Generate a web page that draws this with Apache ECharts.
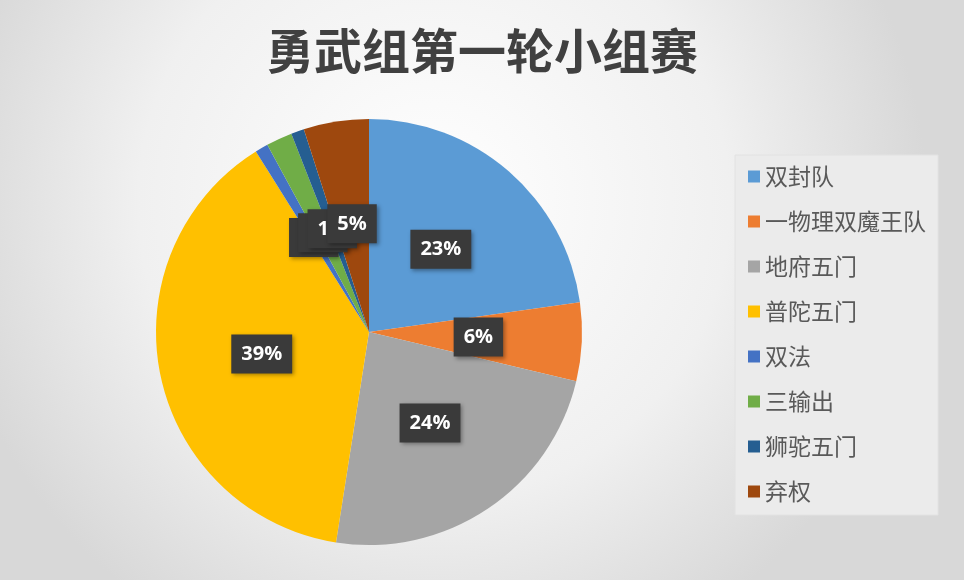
<!DOCTYPE html>
<html><head><meta charset="utf-8">
<script src="https://cdn.jsdelivr.net/npm/echarts@6/dist/echarts.min.js"></script>
<style>html,body{margin:0;padding:0;background:#fff}#c{width:964px;height:580px}</style>
</head><body><div id="c"></div>
<script>
const categories = ['双封队','一物理双魔王队','地府五门','普陀五门','双法','三输出','狮驼五门','弃权'];
const values = [23, 6, 24, 39, 1, 2, 1, 5];
const colors = ['#5B9BD5','#ED7D31','#A5A5A5','#FFC000','#4472C4','#70AD47','#255E91','#9E480E'];
const titleText = '勇武组第一轮小组赛';

const total = values.reduce((a,b)=>a+b,0);
const chart = echarts.init(document.getElementById('c'));
chart.setOption({
  backgroundColor: {
    type: 'radial', x: 0.45, y: 0.35, r: 0.85,
    colorStops: [{offset:0,color:'#ffffff'},{offset:0.6,color:'#f0f0f0'},{offset:1,color:'#d8d8d8'}]
  },
  color: colors,
  title: {
    text: titleText, left: 'center', top: 22,
    textStyle: {fontFamily:'Noto Sans CJK SC', fontSize: 48, fontWeight: 'bold', color: '#404040'}
  },
  legend: {
    orient: 'vertical', left: 735, top: 155,
    padding: [10, 12, 12, 13],
    backgroundColor: '#ebebeb',
    borderColor: '#e2e2e2', borderWidth: 1,
    itemWidth: 12, itemHeight: 12, itemGap: 22,
    icon: 'rect',
    textStyle: {fontFamily:'Noto Sans CJK SC', fontSize: 23, color: '#595959'},
    data: categories
  },
  series: [{
    type: 'pie',
    center: [369, 332], radius: 213,
    startAngle: 90, clockwise: true,
    avoidLabelOverlap: false,
    labelLayout: {hideOverlap: false},
    data: categories.map((n,i)=>({name:n, value: values[i]})),
    itemStyle: {borderWidth: 0},
    label: {
      show: true, position: 'inside',
      formatter: p => Math.round(p.value/total*100) + '%',
      color: '#fff', fontSize: 20, fontWeight: 'bold',
      fontFamily: 'Open Sans',
      backgroundColor: '#3a3a3a',
      padding: [10, 10, 9, 10],
      shadowColor: 'rgba(0,0,0,0.35)', shadowBlur: 4, shadowOffsetX: 2, shadowOffsetY: 2
    },
    labelLine: {show: false},
    emphasis: {disabled: true}
  }]
});
</script></body></html>
